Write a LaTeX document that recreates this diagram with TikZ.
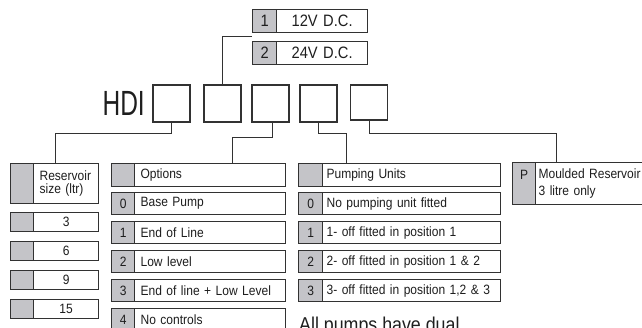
\documentclass[tikz,border=0pt]{standalone}
\usepackage{fontspec}
\setmainfont{Liberation Sans}[FakeStretch=0.89]
\newfontfamily\hdifont{Liberation Sans}[FakeStretch=0.70]
\definecolor{keygray}{RGB}{196,196,200}
\definecolor{edgecol}{RGB}{50,50,50}
\definecolor{inkcol}{RGB}{30,30,30}
\tikzset{
  grpfont/.style={font=\fontsize{13.5}{16}\selectfont},
  keycell/.style={draw=edgecol, line width=1.2pt, fill=keygray, anchor=north west,
    inner sep=0pt, text=inkcol, align=center, grpfont},
  txtcell/.style={draw=edgecol, line width=1.2pt, fill=white, anchor=north west,
    inner ysep=0pt, text=inkcol, grpfont},
  selbox/.style={draw=edgecol, line width=1.2pt, fill=white, minimum width=37pt,
    minimum height=37pt, inner sep=0pt},
  link/.style={draw=edgecol, line width=1pt},
}
\def\ins{6}
% #1 name #2 x1 #3 xg #4 x2 #5 y1 #6 y2 #7 key #8 align #9 text
\newcommand\entryrow[9]{%
  \pgfmathsetmacro\kw{#3-#2}%
  \pgfmathsetmacro\tw{#4-#3}%
  \pgfmathsetmacro\hh{#6-#5}%
  \pgfmathsetmacro\iw{#4-#3-2*\ins}%
  \node[keycell, minimum width=\kw pt, minimum height=\hh pt] (#1k) at (#2,#5) {#7};
  \node[txtcell, minimum width=\tw pt, minimum height=\hh pt, inner xsep=\ins pt,
        text width=\iw pt, align=#8] (#1) at (#3,#5) {#9};}
\begin{document}
\begin{tikzpicture}[x=1pt,y=-1pt]
\useasboundingbox (0,0) rectangle (642,327);
\clip (0,0) rectangle (642,327);

% voltage
\tikzset{grpfont/.style={font=\fontsize{16.5}{19}\selectfont}}
\entryrow{v1}{252}{276}{367}{9}{32}{1}{center}{12V D.C.}
\entryrow{v2}{252}{276}{367}{41}{64}{2}{center}{24V D.C.}
\coordinate (vgap) at (252,36.5);

% HDI and selection boxes
\node[anchor=base east, inner sep=0pt, text=inkcol, font=\hdifont\fontsize{35}{35}\selectfont] (hdi) at (145,115) {HDI};
\node[selbox] (b1) at (171.5,103.5) {};
\node[selbox] (b2) at (222.5,103.5) {};
\node[selbox] (b3) at (270.5,103.5) {};
\node[selbox] (b4) at (318.5,103.5) {};
\node[selbox, minimum height=35pt] (b5) at (369,102.5) {};

% reservoir
\tikzset{grpfont/.style={font=\fontsize{13.5}{12.5}\selectfont}}
\def\ins{6}
\entryrow{rh}{10}{33}{98}{163}{203}{}{left}{Reservoir\\size (ltr)}
\tikzset{grpfont/.style={font=\fontsize{13.5}{16}\selectfont}}
\entryrow{r3}{10}{33}{98}{212}{231}{}{center}{3}
\entryrow{r6}{10}{33}{98}{241}{260}{}{center}{6}
\entryrow{r9}{10}{33}{98}{270}{289}{}{center}{9}
\entryrow{r15}{10}{33}{98}{299}{318}{}{center}{15}

% options
\def\ins{6}
\entryrow{oh}{111}{134}{285}{163}{186}{}{left}{Options}
\entryrow{o0}{111}{134}{285}{192}{214}{0}{left}{Base Pump}
\entryrow{o1}{111}{134}{285}{221}{243}{1}{left}{End of Line}
\entryrow{o2}{111}{134}{285}{250}{272}{2}{left}{Low level}
\entryrow{o3}{111}{134}{285}{279}{301}{3}{left}{End of line + Low Level}
\entryrow{o4}{111}{134}{285}{308}{330}{4}{left}{No controls}

% pumping units
\def\ins{4}
\entryrow{ph}{298}{322}{500}{163}{186}{}{left}{Pumping Units}
\entryrow{p0}{298}{322}{500}{192}{214}{0}{left}{No pumping unit fitted}
\entryrow{p1}{298}{322}{500}{221}{243}{1}{left}{1- off fitted in position 1}
\entryrow{p2}{298}{322}{500}{250}{272}{2}{left}{2- off fitted in position 1 \& 2}
\entryrow{p3}{298}{322}{500}{279}{301}{3}{left}{3- off fitted in position 1,2 \& 3}

% moulded reservoir
\def\ins{3}
\tikzset{grpfont/.style={font=\fontsize{13.5}{17}\selectfont}}
\entryrow{mr}{512}{535}{680}{162}{204}{P\\\phantom{3}}{left}{Moulded Reservoir\\3 litre only}

% note
\node[anchor=base west, inner sep=0pt, text=inkcol, font=\fontsize{20}{24}\selectfont] (note) at (299,331) {All pumps have dual};

% connectors
\coordinate (crh) at (55,163);
\coordinate (coh) at (232,163);
\coordinate (cph) at (346,163);
\coordinate (cmr) at (556,162);
\draw[link] (b2.north) |- (vgap);
\draw[link] (b1.south) -- ++(0,11) -| (crh);
\draw[link] ([xshift=2pt]b3.south) -- ++(0,15) -| (coh);
\draw[link] (b4.south) -- ++(0,11) -| (cph);
\draw[link] (b5.south) -- ++(0,13) -| (cmr);
\end{tikzpicture}
\end{document}
